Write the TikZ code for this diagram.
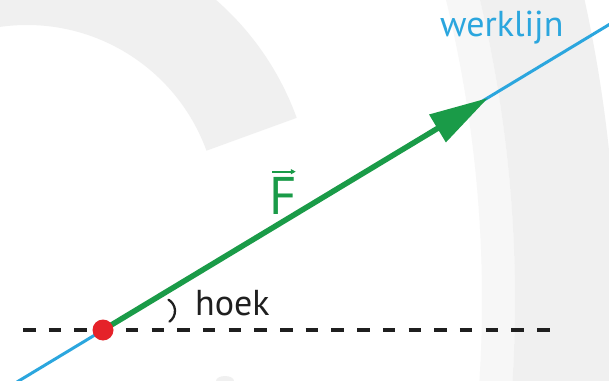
\documentclass[tikz,border=0pt]{standalone}
\usepackage{fontspec}
\setmainfont{PT Sans}
\definecolor{werkBlue}{HTML}{2BA6DE}
\definecolor{krachtGreen}{HTML}{1A9B48}
\definecolor{puntRed}{HTML}{E52229}
\definecolor{vlakGray}{HTML}{F0F0F0}
\definecolor{vlakLight}{HTML}{F7F7F7}
\usetikzlibrary{
	arrows.meta,
	positioning,
	backgrounds
}

\begin{document}
\begin{tikzpicture}[x=1pt,y=1pt,
		werklijnline/.style={werkBlue, line width=3pt},
		kracht/.style={krachtGreen, line width=5.5pt, -{Triangle[length=59pt,width=31pt]}},
		hulplijn/.style={black!88, line width=4.5pt, dash pattern=on 12.5pt off 13.2pt},
		reddot/.style={circle, fill=puntRed, inner sep=0pt, minimum size=21pt},
		tekst/.style={inner sep=0pt, anchor=base west}]
		
		\useasboundingbox (0,0) rectangle (609,380);
		
		% Aangrijpingspunt
		\node[reddot] (dot) at (103,50) {};
		\coordinate (tip) at (488,282);
		\coordinate (wlA) at (17,-2);
		\coordinate (wlB) at (620,362);
		\coordinate (hA) at (23,50);
		\coordinate (hB) at (550,50);
		
		\begin{scope}[on background layer]
			\clip (0,0) rectangle (609,380);
			\fill[white] (0,0) rectangle (609,380);
			
			% Grijze bogen
			\fill[vlakGray] ([shift={(27,164)}]20:191) -- ([shift={(27,164)}]20:287)
				arc[start angle=20, end angle=180, radius=287]
				-- ([shift={(27,164)}]180:191)
				arc[start angle=180, end angle=20, radius=191] -- cycle;
			\fill[vlakLight] ([shift={(-788,80)}]-15:1270)
				arc[start angle=-15, end angle=20, radius=1270]
				-- ([shift={(-788,80)}]20:1303)
				arc[start angle=20, end angle=-15, radius=1303] -- cycle;
			\fill[vlakGray] ([shift={(-788,80)}]-15:1303)
				arc[start angle=-15, end angle=20, radius=1303]
				-- ([shift={(-788,80)}]20:1405)
				arc[start angle=20, end angle=-15, radius=1405] -- cycle;
			\fill[vlakGray] (225,-1) ellipse[x radius=9, y radius=5];
			
			% Werklijn, hulplijn en kracht
			\draw[werklijnline] (wlA) -- (wlB);
			\draw[hulplijn] (hA) -- (hB);
			\draw[kracht] (dot.center) -- (tip);
			
			% Hoek
			\draw[black!88, line width=2.3pt, line cap=round] ([shift={(162,69)}]-55:13)
				arc[start angle=-55, end angle=60, radius=13];
		\end{scope}
		
		% Teksten
		\node[tekst, werkBlue, font=\fontsize{36}{40}\selectfont] (werklijn) at (440,343) {werklijn};
		\node[tekst, black!88, font=\fontsize{36}{40}\selectfont] (hoek) at (195,65) {hoek};
		\node[inner sep=0pt, anchor=base west, krachtGreen, font=\fontsize{53}{55}\selectfont] (F) at (269,165) {F};
		\draw[krachtGreen, line width=1.8pt, -{Triangle[length=5pt,width=5pt]}]
			([xshift=3pt,yshift=6pt]F.north west) -- ([xshift=-1pt,yshift=6pt]F.north east);
		
	\end{tikzpicture}
\end{document}
